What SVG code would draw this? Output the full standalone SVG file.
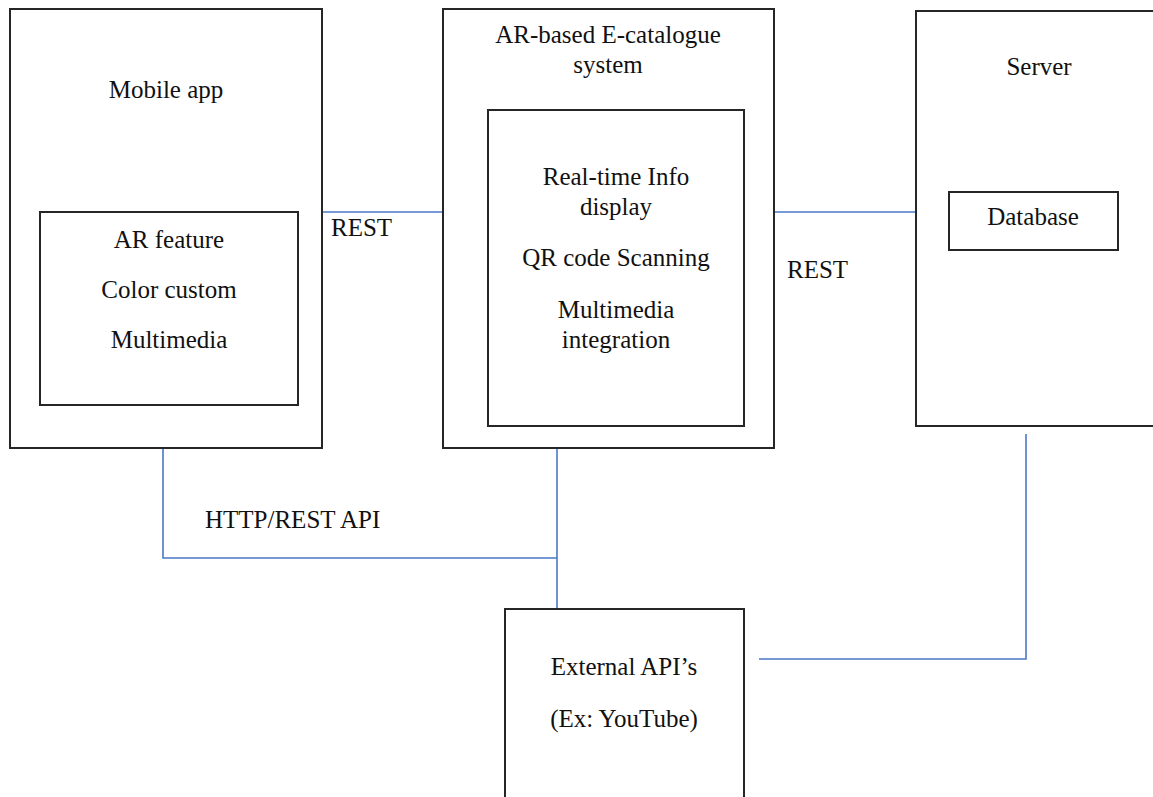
<svg xmlns="http://www.w3.org/2000/svg" width="1153" height="797" viewBox="0 0 1153 797">
<style>
.box{fill:#fff;stroke:#262626;stroke-width:2}
.inner{fill:none;stroke:#262626;stroke-width:2}
text{font-family:'Liberation Serif','Times New Roman',Tinos,'DejaVu Serif',serif;font-size:25px;fill:#111}
.t{text-anchor:middle}
.c{fill:none;stroke:#4a78c8;stroke-width:1.6}
</style>
<rect width="1153" height="797" fill="#fff"/>
<g id="connectors">
<line class="c" x1="322" y1="212" x2="443" y2="212"/>
<line class="c" x1="774" y1="212" x2="916" y2="212"/>
<polyline class="c" points="163,448 163,558 557,558"/>
<line class="c" x1="557" y1="448" x2="557" y2="609"/>
<polyline class="c" points="1026,434 1026,659 759,659"/>
<text font-family="Liberation Serif, serif" x="331" y="236">REST</text>
<text font-family="Liberation Serif, serif" x="787" y="278">REST</text>
<text font-family="Liberation Serif, serif" x="205" y="528">HTTP/REST API</text>
</g>
<g id="mobile-app">
<rect class="box" x="10" y="9" width="312" height="439"/>
<text class="t" x="166" y="98">Mobile app</text>
<rect class="inner" x="40" y="212" width="258" height="193"/>
<text class="t" x="169" y="248">AR feature</text>
<text class="t" x="169" y="298">Color custom</text>
<text class="t" x="169" y="348">Multimedia</text>
</g>
<g id="e-catalogue">
<rect class="box" x="443" y="9" width="331" height="439"/>
<text class="t" x="608" y="43">AR-based E-catalogue</text>
<text class="t" x="608" y="73">system</text>
<rect class="inner" x="488" y="110" width="256" height="316"/>
<text class="t" x="616" y="185">Real-time Info</text>
<text class="t" x="616" y="215">display</text>
<text class="t" x="616" y="266">QR code Scanning</text>
<text class="t" x="616" y="318">Multimedia</text>
<text class="t" x="616" y="348">integration</text>
</g>
<g id="server">
<rect class="box" x="916" y="11" width="245" height="415"/>
<text class="t" x="1039" y="75">Server</text>
<rect class="inner" x="949" y="192" width="169" height="58"/>
<text class="t" x="1033" y="225">Database</text>
</g>
<g id="external-apis">
<rect class="box" x="505" y="609" width="239" height="200"/>
<text class="t" x="624" y="675">External API’s</text>
<text class="t" x="624" y="727">(Ex: YouTube)</text>
</g>
</svg>
